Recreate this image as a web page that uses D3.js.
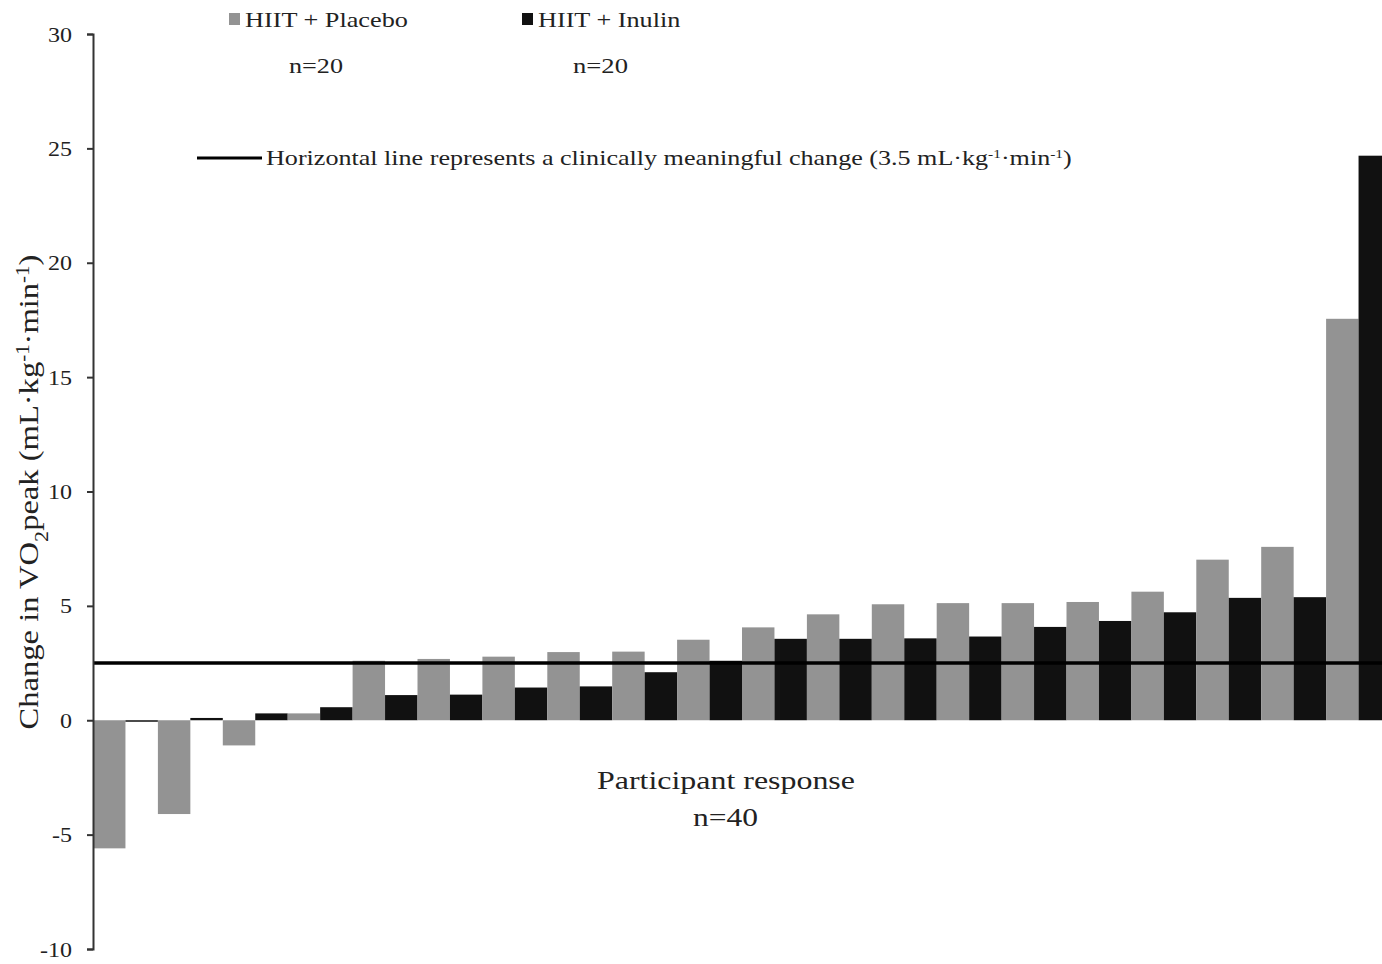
<!DOCTYPE html>
<html>
<head>
<meta charset="utf-8">
<script src="https://cdn.jsdelivr.net/npm/d3@7"></script>
<style>
  body { margin: 0; background: #fff; }
  svg text { font-family: "Liberation Serif", "Times New Roman", serif; fill: #222; }
</style>
</head>
<body>
<div id="chart"></div>
<script>
// Participants sorted by change, alternating placebo / inulin
const groups = ["HIIT + Placebo", "HIIT + Inulin"];
const groupOf = ["P", "I", "P", "I", "P", "I", "P", "I", "P", "I",
                 "P", "I", "P", "I", "P", "I", "P", "I", "P", "I",
                 "P", "I", "P", "I", "P", "I", "P", "I", "P", "I",
                 "P", "I", "P", "I", "P", "I", "P", "I", "P", "I"];
const changes = [-5.6, -0.05, -4.1, 0.1, -1.1, 0.3, 0.3, 0.57, 2.6, 1.1,
                 2.68, 1.12, 2.78, 1.43, 2.98, 1.48, 3.0, 2.1, 3.52, 2.6,
                 4.06, 3.56, 4.63, 3.56, 5.07, 3.58, 5.12, 3.66, 5.12, 4.08,
                 5.17, 4.34, 5.62, 4.72, 7.02, 5.35, 7.58, 5.38, 17.55, 24.68];
const yTicks = [-10, -5, 0, 5, 10, 15, 20, 25, 30];
const threshold = 2.5;

const W = 1382, H = 964;
const colors = {P: "#939393", I: "#111111"};

const svg = d3.select("#chart").append("svg")
    .attr("width", W)
    .attr("height", H);

// scales
const x = d3.scaleBand()
    .domain(d3.range(changes.length))
    .range([93, 93 + 32.45 * changes.length])
    .padding(0);

const y = d3.scaleLinear()
    .domain([-10, 30])
    .range([949, 34]);

// stretch a text node horizontally so it covers a target width
function fitWidth(sel, target) {
    const w = sel.node().getBBox().width;
    const tx = +sel.attr("data-x"), ty = +sel.attr("data-y");
    sel.attr("transform", "translate(" + tx + "," + ty + ") scale(" + (target / w) + ",1)");
}

// bars
svg.append("g").selectAll("rect")
    .data(changes)
    .join("rect")
    .attr("x", (d, i) => x(i))
    .attr("width", x.bandwidth())
    .attr("y", d => y(Math.max(0, d)))
    .attr("height", d => Math.max(1.5, Math.abs(y(d) - y(0))))
    .attr("fill", (d, i) => colors[groupOf[i]]);

// reference line
svg.append("line")
    .attr("x1", 93).attr("x2", W)
    .attr("y1", y(threshold)).attr("y2", y(threshold))
    .attr("stroke", "#000")
    .attr("stroke-width", 3.5);

// y axis
const yAxis = svg.append("g")
    .attr("transform", "translate(93,0)")
    .call(d3.axisLeft(y).tickValues(yTicks).tickFormat(d => String(d)).tickSize(6).tickSizeOuter(6));
yAxis.select(".domain").attr("stroke", "#333").attr("stroke-width", 2);
yAxis.selectAll(".tick line").attr("stroke", "#333").attr("stroke-width", 2);
yAxis.selectAll(".tick text")
    .attr("font-size", 20)
    .attr("fill", "#222")
    .attr("dy", "0.35em")
    .attr("transform", "scale(1.2,1)")
    .attr("x", -21 / 1.2);

// y axis title
const yTitle = svg.append("text")
    .attr("text-anchor", "middle")
    .attr("font-size", 28);
yTitle.append("tspan").text("Change in VO");
yTitle.append("tspan").attr("baseline-shift", "sub").attr("font-size", 19).text("2");
yTitle.append("tspan").text("peak (mL·kg");
yTitle.append("tspan").attr("baseline-shift", "super").attr("font-size", 18).text("-1");
yTitle.append("tspan").text("·min");
yTitle.append("tspan").attr("baseline-shift", "super").attr("font-size", 18).text("-1");
yTitle.append("tspan").text(")");
{
    const len = yTitle.node().getBBox().width;
    yTitle.attr("transform", "translate(38,492) rotate(-90) scale(" + (475 / len) + ",1)");
}

// group legend
const legendItems = [
    {key: "P", label: groups[0], sx: 229, tx: 245, tw: 163, nx: 289, nw: 54},
    {key: "I", label: groups[1], sx: 522, tx: 538, tw: 143, nx: 573, nw: 55}
];
legendItems.forEach(function(item) {
    svg.append("rect")
        .attr("x", item.sx).attr("y", 13)
        .attr("width", 11).attr("height", 12)
        .attr("fill", colors[item.key]);
    const t = svg.append("text")
        .attr("data-x", item.tx).attr("data-y", 27)
        .attr("font-size", 21)
        .text(item.label);
    fitWidth(t, item.tw);
    const n = svg.append("text")
        .attr("data-x", item.nx).attr("data-y", 73)
        .attr("font-size", 21)
        .text("n=20");
    fitWidth(n, item.nw);
});

// reference line legend
svg.append("line")
    .attr("x1", 197).attr("x2", 262)
    .attr("y1", 158).attr("y2", 158)
    .attr("stroke", "#000").attr("stroke-width", 3);
const refText = svg.append("text")
    .attr("data-x", 266).attr("data-y", 165)
    .attr("font-size", 22);
refText.append("tspan").text("Horizontal line represents a clinically meaningful change (3.5 mL·kg");
refText.append("tspan").attr("baseline-shift", "super").attr("font-size", 13).text("-1");
refText.append("tspan").text("·min");
refText.append("tspan").attr("baseline-shift", "super").attr("font-size", 13).text("-1");
refText.append("tspan").text(")");
fitWidth(refText, 806);

// x caption
const cap1 = svg.append("text")
    .attr("data-x", 597).attr("data-y", 789)
    .attr("font-size", 26)
    .text("Participant response");
fitWidth(cap1, 258);
const cap2 = svg.append("text")
    .attr("data-x", 693).attr("data-y", 826)
    .attr("font-size", 26)
    .text("n=40");
fitWidth(cap2, 65);
</script>
</body>
</html>
